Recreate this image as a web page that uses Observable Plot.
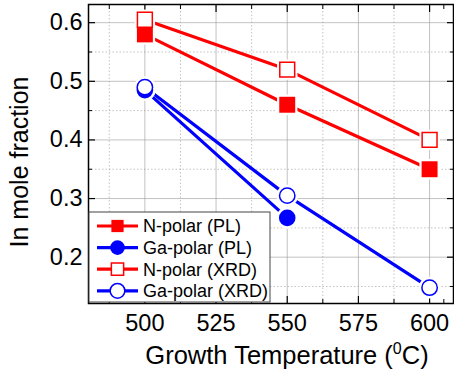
<!DOCTYPE html>
<html><head><meta charset="utf-8">
<script src="https://cdn.jsdelivr.net/npm/d3@7"></script>
<script src="https://cdn.jsdelivr.net/npm/@observablehq/plot@0.6"></script>
<style>body{margin:0;background:#fff;font-family:"Liberation Sans",Arial,sans-serif}</style>
</head><body><div id="chart"></div>
<script>
const temperatures = [500, 550, 600];
const nPolarPL = [0.58, 0.46, 0.35];
const gaPolarPL = [0.485, 0.267];
const nPolarXRD = [0.605, 0.52, 0.40];
const gaPolarXRD = [0.49, 0.305, 0.148];
const seriesNames = ["N-polar (PL)", "Ga-polar (PL)", "N-polar (XRD)", "Ga-polar (XRD)"];
const seriesColors = ["#ff0000", "#0000ff", "#ff0000", "#0000ff"];
const seriesSymbols = ["square", "circle", "square", "circle"];
const seriesFilled = [true, true, false, false];
const xTicks = [500, 525, 550, 575, 600];
const xMinor = [487.5, 512.5, 537.5, 562.5, 587.5, 605];
const yTicks = [0.2, 0.3, 0.4, 0.5, 0.6];
const yMinor = [0.15, 0.25, 0.35, 0.45, 0.55];
const xTitle = "Growth Temperature (";
const xTitleSup = "0";
const xTitleEnd = "C)";
const yTitle = "In mole fraction";

const seriesValues = [nPolarPL, gaPolarPL, nPolarXRD, gaPolarXRD];
const series = seriesValues.map((vals, i) => ({
  name: seriesNames[i], color: seriesColors[i], symbol: seriesSymbols[i], filled: seriesFilled[i],
  data: vals.map((v, j) => ({x: temperatures[j], y: v}))
}));

const rSize = s => s === "square" ? 9 : 8.3;
const marks = [
  Plot.gridX(xMinor.filter(d => d < 600), {stroke: "#aaa", strokeOpacity: 0.7, strokeDasharray: "1.5,2"}),
  Plot.gridY(yMinor, {stroke: "#aaa", strokeOpacity: 0.7, strokeDasharray: "1.5,2"}),
  Plot.gridX(xTicks, {stroke: "#999", strokeOpacity: 0.6}),
  Plot.gridY(yTicks, {stroke: "#999", strokeOpacity: 0.6}),
  Plot.text(xTicks, {x: d => d, text: d => String(d), frameAnchor: "bottom", dy: 20, lineAnchor: "middle",
    fontSize: 23.5, fill: "black"}),
  Plot.text(yTicks, {y: d => d, text: d => d.toFixed(1), frameAnchor: "left", dx: -6, textAnchor: "end",
    fontSize: 23.5, fill: "black"}),
  Plot.axisX({ticks: xTicks, anchor: "bottom", tickSize: -7, text: null, label: null, strokeWidth: 1.2}),
  Plot.axisX({ticks: xTicks, anchor: "top", tickSize: -7, text: null, label: null, strokeWidth: 1.2}),
  Plot.axisX({ticks: xMinor, anchor: "bottom", tickSize: -4, text: null, label: null}),
  Plot.axisX({ticks: xMinor, anchor: "top", tickSize: -4, text: null, label: null}),
  Plot.axisY({ticks: yTicks, anchor: "left", tickSize: -7, text: null, label: null, strokeWidth: 1.2}),
  Plot.axisY({ticks: yTicks, anchor: "right", tickSize: -7, text: null, label: null, strokeWidth: 1.2}),
  Plot.axisY({ticks: yMinor, anchor: "left", tickSize: -4, text: null, label: null}),
  Plot.axisY({ticks: yMinor, anchor: "right", tickSize: -4, text: null, label: null}),
];
for (const s of series) marks.push(Plot.line(s.data, {x: "x", y: "y", stroke: s.color, strokeWidth: 3.2}));
for (const s of series) marks.push(Plot.dot(s.data, {x: "x", y: "y", symbol: s.symbol, r: rSize(s.symbol) + 2.5, fill: "white", stroke: "none"}));
for (const s of series) marks.push(Plot.dot(s.data, {x: "x", y: "y", symbol: s.symbol, r: rSize(s.symbol) - (s.filled ? 0 : 0.6),
  fill: s.filled ? s.color : "white", stroke: s.color, strokeWidth: s.filled ? 0 : 1.5}));
marks.push(Plot.frame({stroke: "black", strokeWidth: 1.5}));

const plot = Plot.plot({
  width: 454, height: 377,
  marginLeft: 88, marginRight: 1, marginTop: 4, marginBottom: 74,
  style: {fontFamily: "'Liberation Sans', Arial, sans-serif", color: "black", background: "white", overflow: "visible"},
  x: {domain: [480.2, 608.4], axis: null},
  y: {domain: [0.121, 0.631], axis: null},
  marks
});
document.getElementById("chart").append(plot);

const svg = d3.select(plot);
// Axis titles
const xt = svg.append("text").attr("x", 287).attr("y", 364).attr("text-anchor", "middle")
  .attr("font-size", 25.5).attr("fill", "black");
xt.append("tspan").text(xTitle);
xt.append("tspan").attr("font-size", 16).attr("dy", -10).text(xTitleSup);
xt.append("tspan").attr("dy", 10).text(xTitleEnd);
svg.append("text").attr("transform", "translate(28,162) rotate(-90)").attr("text-anchor", "middle")
  .attr("font-size", 25).attr("fill", "black").text(yTitle);

// Legend
const lg = svg.append("g").attr("text-anchor", "start");
lg.append("rect").attr("x", 89).attr("y", 212).attr("width", 181).attr("height", 90)
  .attr("fill", "white").attr("stroke", "#444").attr("stroke-width", 1);
series.forEach((s, i) => {
  const cy = 226 + i * 21.6;
  lg.append("line").attr("x1", 97).attr("x2", 138).attr("y1", cy).attr("y2", cy)
    .attr("stroke", s.color).attr("stroke-width", 3.2);
  const sym = d3.symbol().type(s.symbol === "square" ? d3.symbolSquare : d3.symbolCircle)
    .size(s.symbol === "square" ? 150 : 170);
  lg.append("path").attr("d", sym()).attr("transform", `translate(117.5,${cy})`)
    .attr("fill", s.filled ? s.color : "white").attr("stroke", s.color).attr("stroke-width", s.filled ? 0 : 1.5);
  lg.append("text").attr("x", 143).attr("y", cy).attr("dy", "0.35em").attr("font-size", 18)
    .attr("text-anchor", "start").attr("fill", "black").text(s.name);
});
</script></body></html>
